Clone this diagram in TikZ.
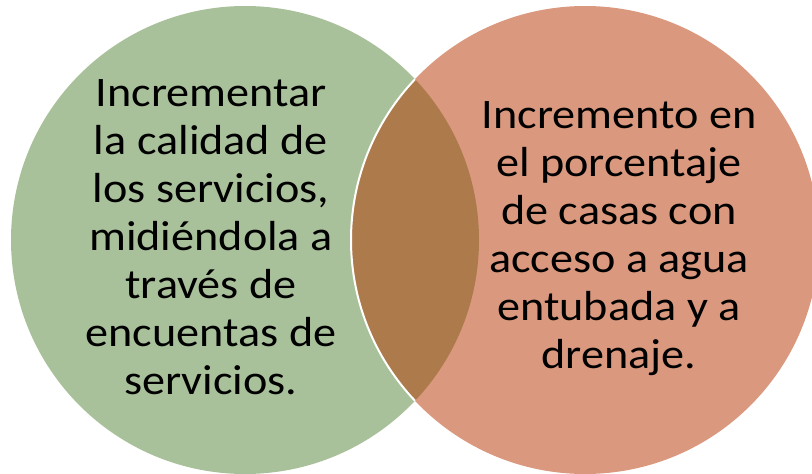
\documentclass[tikz,border=0pt]{standalone}
\usepackage{fontspec}
\setmainfont{Carlito}[FakeStretch=1.1]
\usetikzlibrary{positioning}
\definecolor{setgreen}{HTML}{A9C19A}
\definecolor{setsalmon}{HTML}{DA987E}
\definecolor{setbrown}{HTML}{AD7A4C}
\tikzset{
  every node/.style={font=\fontsize{42}{48}\selectfont, text=black},
  ring/.style={circle, inner sep=0pt, minimum size=468pt},
  txt/.style={align=center, inner sep=0pt},
}
\begin{document}
\begin{tikzpicture}[x=1pt,y=-1pt]
  \useasboundingbox (0,0) rectangle (812,474);

  % circles
  \node[ring, fill=setgreen] (lset) at (245,240) {};
  \node[ring, fill=setsalmon] (rset) at (585,240) {};

  % overlap
  \begin{scope}
    \clip (lset.center) circle[radius=234pt];
    \fill[setbrown] (rset.center) circle[radius=234pt];
    \draw[white, line width=2pt] (rset.center) circle[radius=234pt];
  \end{scope}

  % texts
  \node[txt] (ltext) at (211,237) {Incrementar\\la calidad de\\los servicios,\\midiéndola a\\través de\\encuentas de\\servicios.};
  \node[txt] (rtext) at (619,239) {Incremento en\\el porcentaje\\de casas con\\acceso a agua\\entubada y a\\drenaje.};
\end{tikzpicture}
\end{document}
